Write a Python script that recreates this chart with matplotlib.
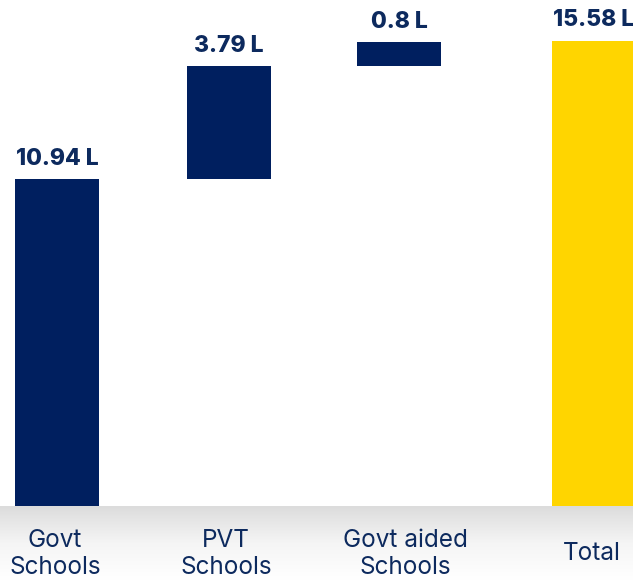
import matplotlib
matplotlib.use("Agg")
import matplotlib.pyplot as plt
import matplotlib.transforms as mtransforms
from matplotlib.colors import LinearSegmentedColormap
import numpy as np

categories = ["Govt\nSchools", "PVT\nSchools", "Govt aided\nSchools", "Total"]
values = [10.94, 3.79, 0.8, 15.58]
value_labels = ["10.94 L", "3.79 L", "0.8 L", "15.58 L"]
is_total = [False, False, False, True]

NAVY = "#001f5f"
YELLOW = "#ffd500"
TEXT = "#0d2a5e"

x_pos = [0, 1, 1.99, 3.12]
label_x = [-0.012, 0.983, 2.025, 3.11]
bar_w = 0.488

fig = plt.figure(figsize=(6.33, 5.8), dpi=100)
fig.patch.set_facecolor("white")

# gradient band behind category labels
gax = fig.add_axes([0, 0, 1, 74 / 580])
grad = np.linspace(0, 1, 256).reshape(-1, 1)
cmap = LinearSegmentedColormap.from_list("g", ["#ffffff", "#f5f5f5", "#dcdcdc"])
gax.imshow(grad, aspect="auto", cmap=cmap, origin="lower", extent=[0, 1, 0, 1])
gax.set_axis_off()

ax = fig.add_axes([0, 74 / 580, 1, 506 / 580])
ax.set_facecolor("none")

bottoms = []
running = 0.0
for v, t in zip(values, is_total):
    if t:
        bottoms.append(0.0)
    else:
        bottoms.append(running)
        running += v

colors = [YELLOW if t else NAVY for t in is_total]
ax.bar(x_pos, values, bottom=bottoms, width=bar_w, color=colors, linewidth=0)

for x, v, b, lab in zip(x_pos, values, bottoms, value_labels):
    ax.annotate(lab, (x, b + v), xytext=(0, 7), textcoords="offset points",
                ha="center", va="bottom", fontsize=16.5, fontweight="heavy",
                color=TEXT, family=["Inter", "DejaVu Sans"])

ax.set_xlim(-0.331, 3.349)
ax.set_ylim(0, 16.95)
ax.set_axis_off()

trans = mtransforms.blended_transform_factory(ax.transData, fig.transFigure)
for x, c in zip(label_x, categories):
    fig.text(x, 26 / 580, c, ha="center", va="center", fontsize=17.5,
             color=TEXT, family=["Inter", "DejaVu Sans"], linespacing=1.2,
             transform=trans)

fig.savefig("out.png", dpi=100)
